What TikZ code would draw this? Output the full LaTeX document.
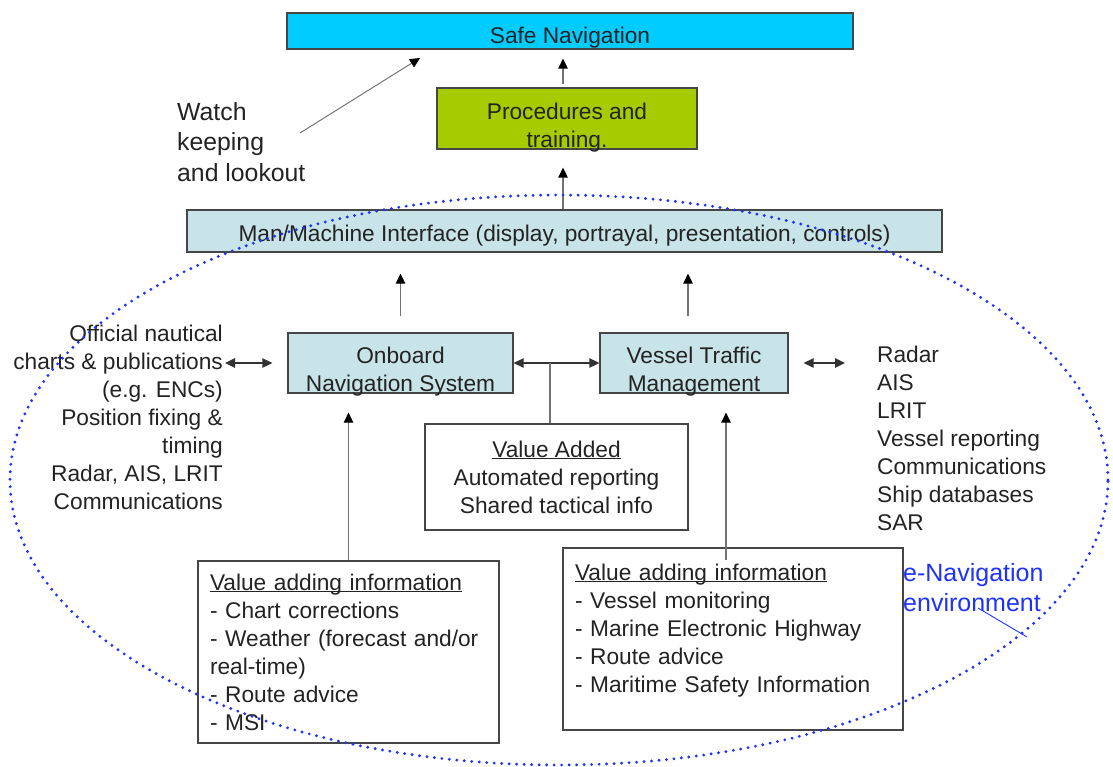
\documentclass[tikz,border=0pt]{standalone}
\usepackage{fontspec}
\setmainfont{Liberation Sans}
\usetikzlibrary{arrows.meta}

\definecolor{safecyan}{RGB}{0,204,255}
\definecolor{procgreen}{RGB}{166,204,0}
\definecolor{sysblue}{RGB}{200,228,232}
\definecolor{envblue}{RGB}{30,50,255}
\definecolor{edgegray}{RGB}{70,70,70}
\definecolor{inkgray}{RGB}{35,35,35}

\newcommand{\lift}[1]{\rule{0pt}{#1}}
\newcommand{\ulhead}[1]{\underline{\raisebox{0pt}[\height][0pt]{#1}}}

\tikzset{
    box/.style={draw=edgegray, line width=1.3pt, inner sep=0pt, align=center},
    tight/.style={inner ysep=-4pt},
    infobox/.style={box, fill=white, inner xsep=12pt, align=left},
    arr/.style={draw=black!55, line width=1.3pt, -{Triangle[length=10pt, width=9.5pt, color=black]}},
    arrs/.style={draw=black!80, line width=1.3pt, {Triangle[length=10pt, width=9.5pt]}-{Triangle[length=10pt, width=9.5pt]}},
    link/.style={draw=black!55, line width=1.3pt},
    pad/.style={execute at end node={\rule[-#1]{0pt}{0pt}}},
    envline/.style={envblue, line width=3.2pt, line cap=round, dash pattern=on 0pt off 7.5pt}
}

\begin{document}
\begin{tikzpicture}[x=1pt, y=-1pt, font=\fontsize{22.7}{28}\selectfont, text=inkgray]
    \useasboundingbox (0,0) rectangle (1113,767);

    \node[box, fill=safecyan, minimum width=566pt, minimum height=36pt] (safe) at (570,31) {\lift{29pt}Safe Navigation};
    \node[box, tight, fill=procgreen, minimum width=260pt, minimum height=61pt] (proc) at (567,118.5) {\lift{34pt}Procedures and\\training.};
    \node[box, fill=sysblue, minimum width=755pt, minimum height=42pt] (mmi) at (564.5,231) {\lift{25pt}Man/Machine Interface (display, portrayal, presentation, controls)};

    \node[box, tight, fill=sysblue, minimum width=225pt, minimum height=60pt] (ons) at (400.5,363) {\lift{34pt}Onboard\\Navigation System};
    \node[box, tight, fill=sysblue, minimum width=188pt, minimum height=60pt] (vtm) at (694,363) {\lift{34pt}Vessel Traffic\\Management};
    \node[box, fill=white, minimum width=263pt, minimum height=106pt] (vadd) at (556.5,477) {\ulhead{Value Added}\\Automated reporting\\Shared tactical info};

    \node[infobox, text width=277pt, minimum height=182pt] (linfo) at (348.5,652) {\ulhead{Value adding information}\\- Chart corrections\\- Weather (forecast and/or\\real-time)\\- Route advice\\- MSI};
    \node[infobox, text width=316pt, minimum height=182pt, pad=22pt] (rinfo) at (733,639) {\ulhead{Value adding information}\\- Vessel monitoring\\- Marine Electronic Highway\\- Route advice\\- Maritime Safety Information};

    \node[anchor=north east, inner sep=0pt, align=right] (srcl) at (223,325) {Official nautical\\charts \& publications\\(e.g. ENCs)\\Position fixing \&\\timing\\Radar, AIS, LRIT\\Communications};
    \node[anchor=north west, inner sep=0pt, align=left] (srcr) at (877,346) {Radar\\AIS\\LRIT\\Vessel reporting\\Communications\\Ship databases\\SAR};

    \node[anchor=north west, inner sep=0pt, align=left, font=\fontsize{24.8}{30.5}\selectfont] (watch) at (177,102) {Watch\\keeping\\and lookout};
    \node[anchor=north west, inner sep=0pt, align=left, font=\fontsize{25}{30}\selectfont, text=envblue] (envtxt) at (903,563) {e-Navigation\\environment};

    % arrows up the chain
    \draw[arr, shorten >=9pt] ([xshift=-4pt, yshift=3pt]proc.north) -- ([xshift=-4pt]proc.north |- safe.south);
    \draw[arr, shorten >=18pt] ([xshift=-4pt]proc.south |- mmi.north) -- ([xshift=-4pt]proc.south);
    \draw[arr, shorten <=16pt, shorten >=21pt] (ons.north) -- (ons.north |- mmi.south);
    \draw[arr, shorten <=16pt, shorten >=21pt] ([xshift=-6pt]vtm.north) -- ([xshift=-6pt]vtm.north |- mmi.south);

    \draw[arrs] (ons.east) -- (vtm.west);
    \draw[link] ([xshift=-6.5pt]vadd.north) -- ([xshift=-6.5pt]vadd.north |- ons.east);
    \draw[arrs, shorten <=2pt, shorten >=15pt] (srcl.east |- ons.west) -- (ons.west);
    \draw[arrs, shorten <=15pt, shorten >=32pt] (vtm.east) -- (vtm.east -| srcr.west);

    \draw[arr, shorten >=19pt] (linfo.north) -- (linfo.north |- ons.south);
    \coordinate (rfoot) at (726,560);
    \draw[arr, shorten >=19pt] (rfoot) -- (rfoot |- vtm.south);

    \coordinate (wfoot) at (300,133);
    \coordinate (wtip) at (420,58);
    \draw[arr, line width=1pt] (wfoot) -- (wtip);

    % e-navigation boundary
    \coordinate (envfoot) at (978,608);
    \coordinate (envtip) at (1027,637);
    \draw[envblue, line width=0.9pt] (envfoot) -- (envtip);
    \draw[envline] (559,480) ellipse [x radius=549pt, y radius=285pt];
\end{tikzpicture}
\end{document}
